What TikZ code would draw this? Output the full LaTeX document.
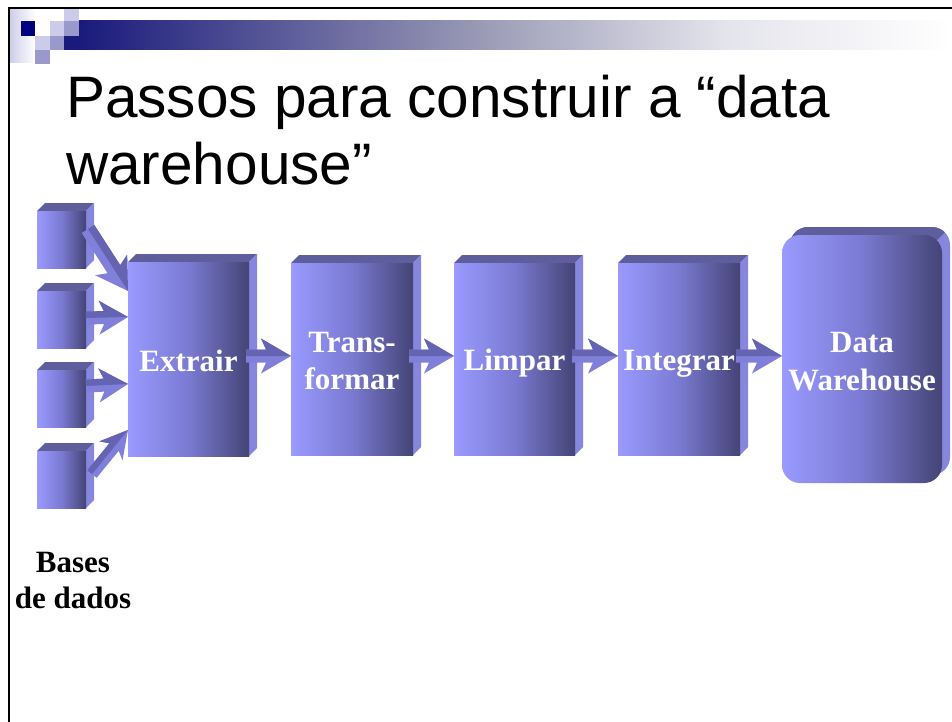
\documentclass[tikz,border=0pt]{standalone}
\usepackage{fontspec}
\setmainfont{Liberation Serif}
\newfontfamily\titlefont{Liberation Sans}
\usetikzlibrary{calc}
\definecolor{frontL}{HTML}{9A9AFF}
\definecolor{frontM}{HTML}{7A7AD2}
\definecolor{frontR}{HTML}{444476}
\definecolor{topface}{HTML}{5E5E9C}
\definecolor{sideface}{HTML}{8686DE}
\definecolor{arrowlight}{HTML}{8080DA}
\definecolor{arrowdark}{HTML}{6464B2}
\definecolor{navy}{HTML}{000080}
\definecolor{sqlight}{HTML}{CCCCEA}
\definecolor{sqmed}{HTML}{9999CC}
\definecolor{barA}{HTML}{1A1A7C}
\definecolor{barB}{HTML}{9A9AB6}
\definecolor{barC}{HTML}{E4E4EC}
\pgfdeclarehorizontalshading{barshade}{100bp}{color(0bp)=(barA); color(25bp)=(barA); color(48bp)=(barB); color(62bp)=(barC); color(75bp)=(white); color(100bp)=(white)}
\tikzset{
  lbl/.style={font=\bfseries\fontsize{31}{37}\selectfont, text=white, inner sep=0pt, anchor=base},
  blbl/.style={font=\bfseries\fontsize{31}{37}\selectfont, text=black, inner sep=0pt, anchor=base},
  ttl/.style={font=\titlefont\fontsize{58.5}{66}\selectfont, text=black, inner sep=0pt, anchor=base west},
  frontshade/.style={left color=frontL, right color=frontR, middle color=frontM}
}
\newcommand{\slab}[6]{%
  \fill[topface] (#2,#3) -- (#2+#6,#3-#6) -- (#4+#6,#3-#6) -- (#4,#3) -- cycle;
  \fill[sideface] (#4,#3) -- (#4+#6,#3-#6) -- (#4+#6,#5-#6) -- (#4,#5) -- cycle;
  \shade[frontshade] (#2,#3) rectangle (#4,#5);
  \coordinate (#1) at ({(#2+#4)/2},{(#3+#5)/2});
}
% \blockarr{from}{to}{shaft half width}{head half width}{head length}
\newcommand{\blockarr}[5]{%
  \path let \p1=(#1), \p2=(#2) in \pgfextra{%
    \pgfmathsetmacro{\tmpang}{atan2(\y2-\y1,\x2-\x1)}%
    \pgfmathsetmacro{\tmplen}{veclen(\x2-\x1,\y2-\y1)}%
    \pgfmathsetmacro{\tmpback}{\tmplen-#5}%
    \pgfmathsetmacro{\tmpnotch}{\tmplen-#5-5}%
    \xdef\gbang{\tmpang}\xdef\gblen{\tmplen}\xdef\gbback{\tmpback}\xdef\gbnotch{\tmpnotch}};
  \begin{scope}[shift={(#1)}, rotate=\gbang]
    \fill[arrowlight] (0pt,-#3pt) -- (\gbback pt,-#3pt) -- (\gbnotch pt,-#4pt) -- (\gblen pt,0pt) -- (\gbnotch pt,#4pt) -- (\gbback pt,#3pt) -- (0pt,#3pt) -- cycle;
    \fill[arrowdark] (0pt,0pt) -- (0pt,#3pt) -- (\gbback pt,#3pt) -- (\gbnotch pt,#4pt) -- (\gblen pt,0pt) -- cycle;
  \end{scope}
}
\begin{document}
\begin{tikzpicture}[x=1pt,y=-1pt]
\useasboundingbox (0,0) rectangle (952,722);
\fill[white] (0,0) rectangle (952,722);
% header decoration
\shade[left color=sqlight, right color=white] (9,10) rectangle (35,63);
\fill[white] (35,21) rectangle (50,36);
\fill[navy] (21,21) rectangle (35,36);
\fill[sqlight] (64,9) rectangle (79,21);
\fill[sqlight] (50,21) rectangle (64,36);
\fill[sqmed] (64,21) rectangle (79,36);
\fill[sqlight] (35,36) rectangle (50,50);
\fill[sqmed] (50,36) rectangle (64,50);
\fill[sqmed] (35,50) rectangle (50,64);
\fill[barA] (64,36) rectangle (80,50);
\shade[shading=barshade] (79,21) rectangle (952,50);
% frame
\draw[line width=2.5pt] (9,722) -- (9,8) -- (952,8);
% title
\node[ttl] (title1) at (66,118) {Passos para construir a “data};
\node[ttl] (title2) at (66,184) {warehouse”};
% source databases
\slab{db1}{37}{211}{86}{268}{8}
\slab{db2}{37}{291}{86}{348}{8}
\slab{db3}{37}{370}{86}{427}{8}
\slab{db4}{37}{451}{86}{508}{8}
% process boxes
\slab{ext}{128}{262}{249}{456}{8}
\slab{tra}{291}{263}{413}{455}{8}
\slab{lim}{454}{263}{575}{455}{8}
\slab{int}{618}{263}{740}{455}{8}
% data warehouse
\fill[sideface, rounded corners=18pt] (790,227) rectangle (950,475);
\begin{scope}
  \clip (770,200) -- (965,200) -- (965,212) -- (930,247) -- (770,247) -- cycle;
  \fill[topface, rounded corners=18pt] (790,227) rectangle (950,475);
\end{scope}
\shade[frontshade, rounded corners=18pt] (782,235) rectangle (942,483);
\coordinate (dw) at (862,359);
% arrow end points
\coordinate (a1s) at (88,229);  \coordinate (a1e) at (128,291);
\coordinate (a2s) at (86,318);  \coordinate (a2e) at (128,317);
\coordinate (a3s) at (86,386);  \coordinate (a3e) at (128,384);
\coordinate (a4s) at (92,474);  \coordinate (a4e) at (128,430);
\coordinate (b1s) at (246,356); \coordinate (b1e) at (291,356);
\coordinate (b2s) at (409,356); \coordinate (b2e) at (454,356);
\coordinate (b3s) at (572,356); \coordinate (b3e) at (618,356);
\coordinate (b4s) at (736,356); \coordinate (b4e) at (782,356);
\blockarr{a1s}{a1e}{7.5}{19}{26}
\blockarr{a2s}{a2e}{6.5}{17}{24}
\blockarr{a3s}{a3e}{6.5}{17}{24}
\blockarr{a4s}{a4e}{6}{15}{22}
\blockarr{b1s}{b1e}{6.5}{17.5}{25}
\blockarr{b2s}{b2e}{6.5}{17.5}{25}
\blockarr{b3s}{b3e}{6.5}{17.5}{25}
\blockarr{b4s}{b4e}{6.5}{17.5}{25}
% labels
\node[lbl] (extL) at (188.5,371) {Extrair};
\node[lbl] (traL1) at (352,352) {Trans-};
\node[lbl] (traL2) at (352,389) {formar};
\node[lbl] (limL) at (514.5,370) {Limpar};
\node[lbl] (intL) at (679,370) {Integrar};
\node[lbl] (dwL1) at (862,352) {Data};
\node[lbl] (dwL2) at (862,390) {Warehouse};
\node[blbl] (dbL1) at (73,572) {Bases};
\node[blbl] (dbL2) at (73,608) {de dados};
\end{tikzpicture}
\end{document}
